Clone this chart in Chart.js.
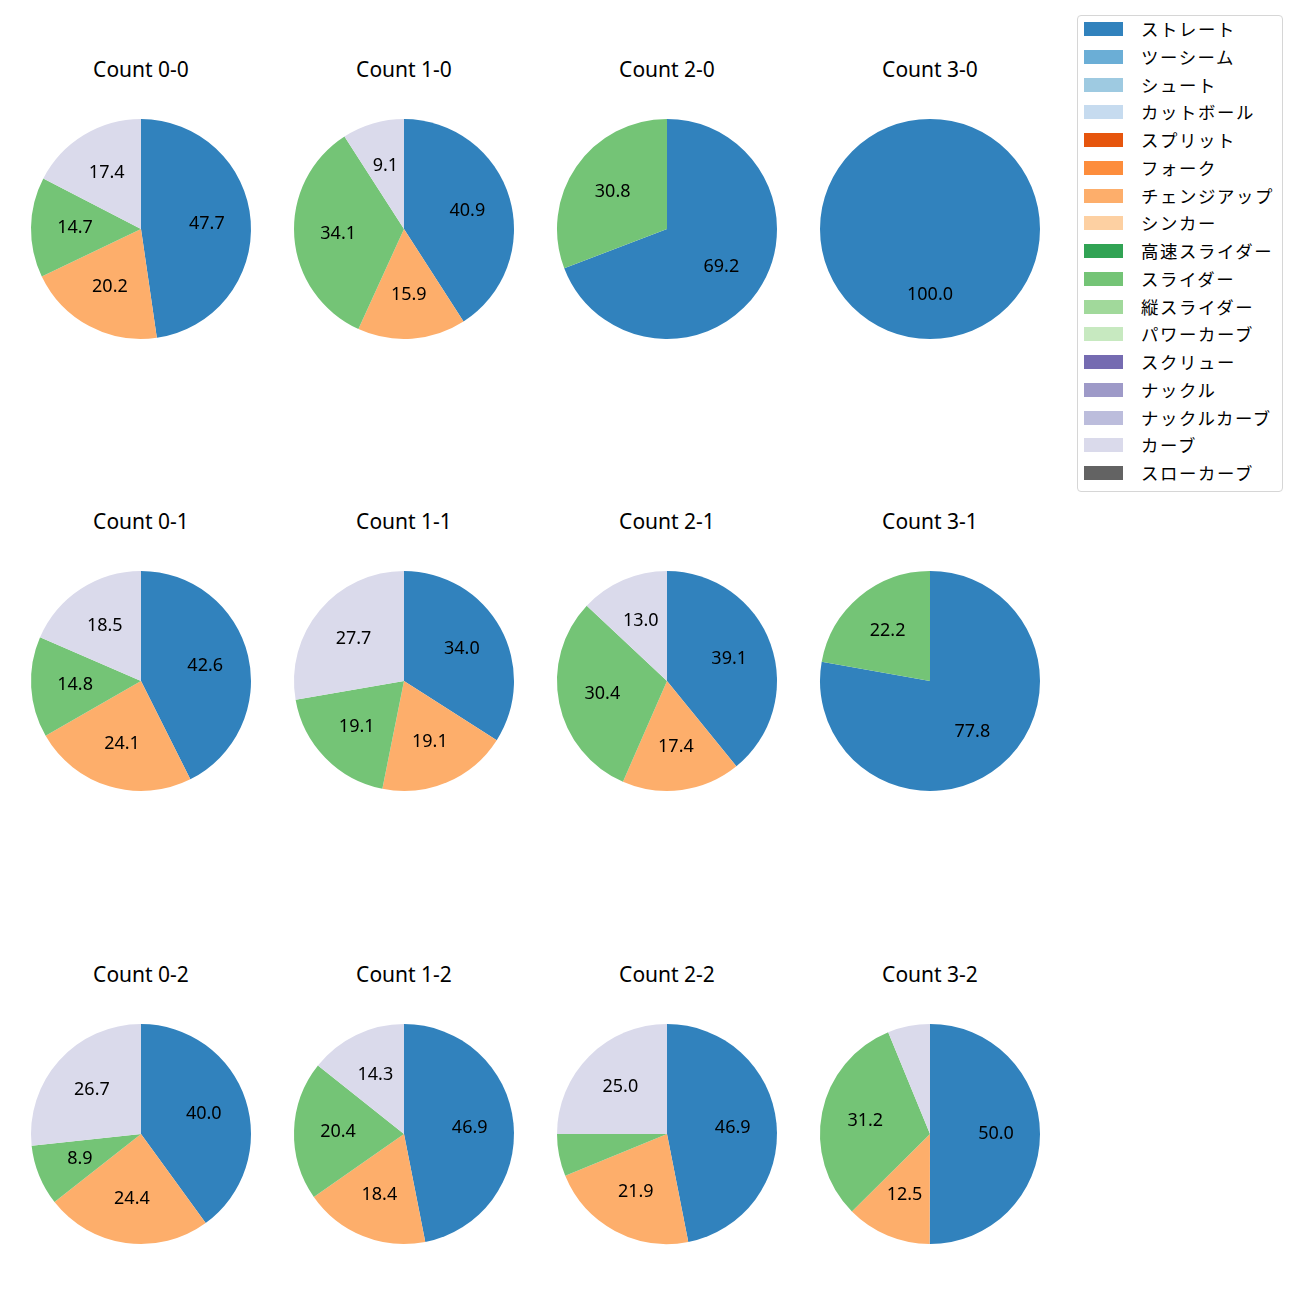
<!DOCTYPE html>
<html>
<head>
<meta charset="utf-8">
<script src="https://cdn.jsdelivr.net/npm/chart.js@4/dist/chart.umd.min.js"></script>
<style>
  html, body { margin: 0; padding: 0; background: #fff; }
  body { width: 1300px; height: 1300px; position: relative; overflow: hidden;
         font-family: "Noto Sans", "Noto Sans CJK JP", sans-serif; }
  .cv { position: absolute; width: 240px; height: 240px; }
  .ttl { position: absolute; width: 240px; text-align: center; font-size: 21px; line-height: 24px; color: #000; }
  #legend { position: absolute; left: 1077px; top: 15px; width: 206px; height: 477px;
            border: 1px solid #d6d6d6; border-radius: 4px; box-sizing: border-box;
            font-family: "Noto Sans CJK JP", sans-serif; }
  .li { position: absolute; left: 6px; height: 20px; font-size: 17.4px; line-height: 20px; color: #000; white-space: nowrap; }
  .sw { position: absolute; left: 0; top: 3px; width: 39px; height: 14px; }
  .lt { position: absolute; left: 57px; top: 0; letter-spacing: 1.6px; }
</style>
</head>
<body>
<div id="legend"></div>
<script>
const counts = ['0-0','1-0','2-0','3-0','0-1','1-1','2-1','3-1','0-2','1-2','2-2','3-2'];
const pitchTypes = ['ストレート','ツーシーム','シュート','カットボール','スプリット','フォーク','チェンジアップ','シンカー','高速スライダー','スライダー','縦スライダー','パワーカーブ','スクリュー','ナックル','ナックルカーブ','カーブ','スローカーブ'];
const pitchColors = ['#3182bd','#6baed6','#9ecae1','#c6dbef','#e6550d','#fd8d3c','#fdae6b','#fdd0a2','#31a354','#74c476','#a1d99b','#c7e9c0','#756bb1','#9e9ac8','#bcbddc','#dadaeb','#636363'];
// values per count (percent)
const straight = [47.7, 40.9, 69.2, 100.0, 42.6, 34.0, 39.1, 77.8, 40.0, 46.9, 46.9, 50.0];
const changeup = [20.2, 15.9, 0, 0, 24.1, 19.1, 17.4, 0, 24.4, 18.4, 21.9, 12.5];
const slider   = [14.7, 34.1, 30.8, 0, 14.8, 19.1, 30.4, 22.2, 8.9, 20.4, 6.2, 31.2];
const curve    = [17.4, 9.1, 0, 0, 18.5, 27.7, 13.0, 0, 26.7, 14.3, 25.0, 6.2];

const usedTypes = ['ストレート','チェンジアップ','スライダー','カーブ'];
const usedSeries = [straight, changeup, slider, curve];

// legend
const leg = document.getElementById('legend');
pitchTypes.forEach((p, i) => {
  const d = document.createElement('div');
  d.className = 'li';
  d.style.top = (3 + i * 27.75) + 'px';
  d.innerHTML = '<span class="sw" style="background:' + pitchColors[i] + '"></span><span class="lt">' + p + '</span>';
  leg.appendChild(d);
});

const colX = [141, 404, 667, 930];
const rowY = [229, 681, 1134];

const labelPlugin = {
  id: 'pctLabels',
  afterDatasetsDraw(chart) {
    const ctx = chart.ctx;
    const meta = chart.getDatasetMeta(0);
    const ds = chart.data.datasets[0];
    ctx.save();
    ctx.fillStyle = '#000';
    ctx.font = '18px "Noto Sans", "Noto Sans CJK JP", sans-serif';
    ctx.textAlign = 'center';
    ctx.textBaseline = 'middle';
    meta.data.forEach((arc, i) => {
      const v = ds.data[i];
      if (!v || v < 7) return;
      const p = arc.getProps(['x','y','startAngle','endAngle','outerRadius'], true);
      const mid = (p.startAngle + p.endAngle) / 2;
      const r = p.outerRadius * 0.6;
      ctx.fillText(v.toFixed(1), p.x + r * Math.cos(mid), p.y + r * Math.sin(mid));
    });
    ctx.restore();
  }
};

counts.forEach((c, k) => {
  const col = k % 4, row = Math.floor(k / 4);
  const cx = colX[col], cy = rowY[row];
  const t = document.createElement('div');
  t.className = 'ttl';
  t.textContent = 'Count ' + c;
  t.style.left = (cx - 120) + 'px';
  t.style.top = (cy - 160 - 12) + 'px';
  document.body.appendChild(t);

  const cv = document.createElement('canvas');
  cv.className = 'cv';
  cv.width = 240; cv.height = 240;
  cv.style.left = (cx - 120) + 'px';
  cv.style.top = (cy - 120) + 'px';
  document.body.appendChild(cv);

  const data = usedSeries.map(s => s[k]);
  const colors = usedTypes.map(n => pitchColors[pitchTypes.indexOf(n)]);
  new Chart(cv, {
    type: 'pie',
    data: { labels: usedTypes, datasets: [{ data: data, backgroundColor: colors, borderWidth: 0, hoverOffset: 0 }] },
    options: {
      responsive: false,
      animation: false,
      layout: { padding: 10 },
      plugins: { legend: { display: false }, tooltip: { enabled: false }, title: { display: false } }
    },
    plugins: [labelPlugin]
  });
});
</script>
</body>
</html>
